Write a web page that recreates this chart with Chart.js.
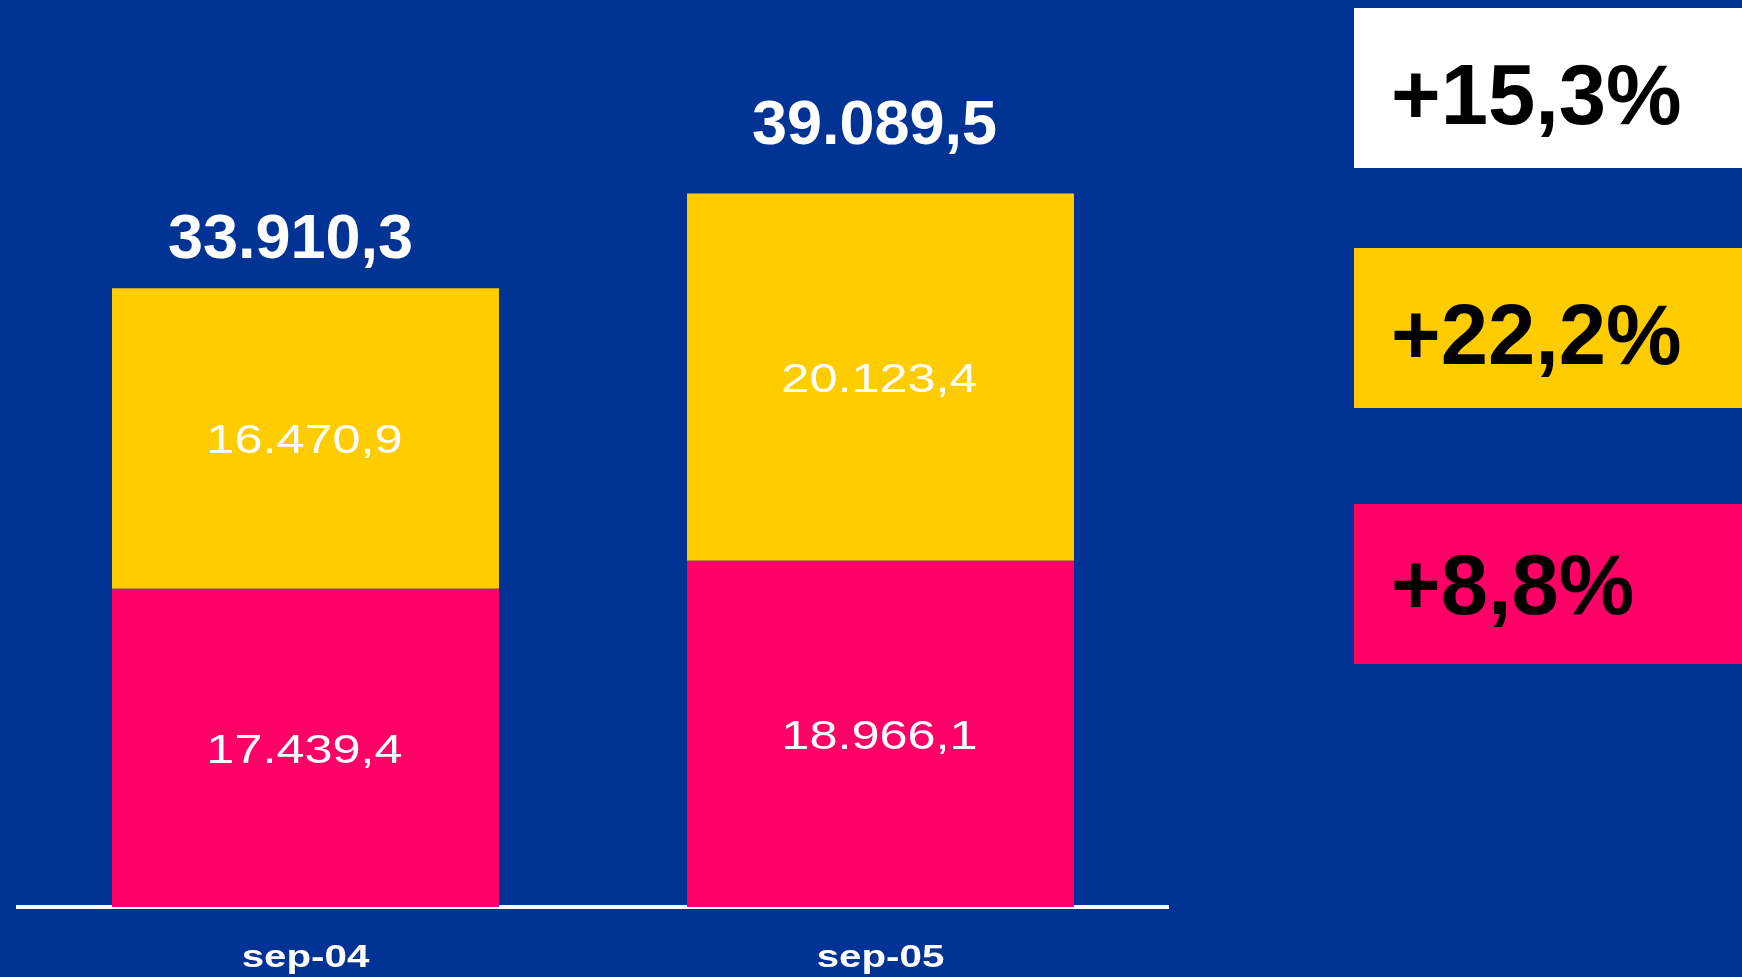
<!DOCTYPE html>
<html><head><meta charset="utf-8">
<script src="https://cdn.jsdelivr.net/npm/chart.js@4/dist/chart.umd.min.js"></script>
<style>
html,body{margin:0;padding:0;background:#003393;overflow:hidden}
#wrap{position:relative;width:1742px;height:977px;background:#003393}
#c{position:absolute;left:0;top:0}
.box{position:absolute;left:1354px;width:388px;height:160px;font-family:'Liberation Sans',Arial,sans-serif;font-weight:bold;font-size:85px;color:#000;box-sizing:border-box;padding-left:37px;display:flex;align-items:center}
.box.b0{top:8px;background:#ffffff;padding-top:14px}
.box.b1{top:248px;background:#ffcc00;padding-top:14px}
.box.b2{top:504px;background:#ff0066;padding-top:2px}
</style></head>
<body><div id="wrap"><canvas id="c" width="1742" height="977"></canvas></div>
<script>
const categories = ['sep-04', 'sep-05'];
const lowerValues = [17439.4, 18966.1];
const upperValues = [16470.9, 20123.4];
const totalValues = [33910.3, 39089.5];
const growthLabels = ['+15,3%', '+22,2%', '+8,8%'];

function fmt(v){
  const parts = v.toFixed(1).split('.');
  return parts[0].replace(/\B(?=(\d{3})+(?!\d))/g, '.') + ',' + parts[1];
}

const wrap = document.getElementById('wrap');
growthLabels.forEach((t, i) => {
  const d = document.createElement('div');
  d.className = 'box b' + i;
  d.textContent = t;
  wrap.appendChild(d);
});

const labelPlugin = {
  id: 'valueLabels',
  beforeDraw(chart){
    // stretch axis tick labels horizontally (wide Arial look)
    const ctx = chart.ctx;
    const orig = CanvasRenderingContext2D.prototype.fillText;
    ctx.fillText = function(t, x, y){
      this.save();
      this.translate(x, y);
      this.scale(1.3, 1);
      orig.call(this, t, 0, 0);
      this.restore();
    };
  },
  beforeDatasetsDraw(chart){ delete chart.ctx.fillText; },
  afterDatasetsDraw(chart){
    const ctx = chart.ctx;
    ctx.save();
    ctx.fillStyle = '#ffffff';
    ctx.textAlign = 'center';
    ctx.textBaseline = 'alphabetic';
    ctx.font = '41px "Liberation Sans", Arial, sans-serif';
    chart.data.datasets.forEach((ds, di) => {
      const meta = chart.getDatasetMeta(di);
      meta.data.forEach((bar, i) => {
        const cy = (bar.y + bar.base) / 2;
        ctx.save();
        ctx.translate(bar.x - 1, cy + 15);
        ctx.scale(1.23, 1);
        ctx.fillText(fmt(ds.data[i]), 0, 0);
        ctx.restore();
      });
    });
    ctx.font = 'bold 63px "Liberation Sans", Arial, sans-serif';
    const topMeta = chart.getDatasetMeta(1);
    const gaps = [30, 50], dx = [-15, -6];
    topMeta.data.forEach((bar, i) => {
      ctx.fillText(fmt(totalValues[i]), bar.x + dx[i], bar.y - gaps[i]);
    });
    ctx.restore();
  }
};

new Chart(document.getElementById('c'), {
  type: 'bar',
  data: {
    labels: categories,
    datasets: [
      { data: lowerValues, backgroundColor: '#ff0066', borderWidth: 0 },
      { data: upperValues, backgroundColor: '#ffcc00', borderWidth: 0 }
    ]
  },
  options: {
    responsive: false,
    animation: false,
    devicePixelRatio: 1,
    layout: { padding: { left: 18, right: 574, top: 31, bottom: 0 } },
    datasets: { bar: { categoryPercentage: 1, barPercentage: 0.673 } },
    plugins: { legend: { display: false }, tooltip: { enabled: false }, title: { display: false } },
    scales: {
      x: {
        stacked: true,
        grid: { display: false, drawTicks: false },
        border: { display: true, color: '#ffffff', width: 4 },
        ticks: { color: '#ffffff', padding: 33, maxRotation: 0, font: { family: 'Liberation Sans', weight: 'bold', size: 31 } },
        afterFit(scale){ scale.height = 70; }
      },
      y: { stacked: true, display: false, min: 0, max: 48000 }
    }
  },
  plugins: [labelPlugin]
});
</script>
</body></html>
